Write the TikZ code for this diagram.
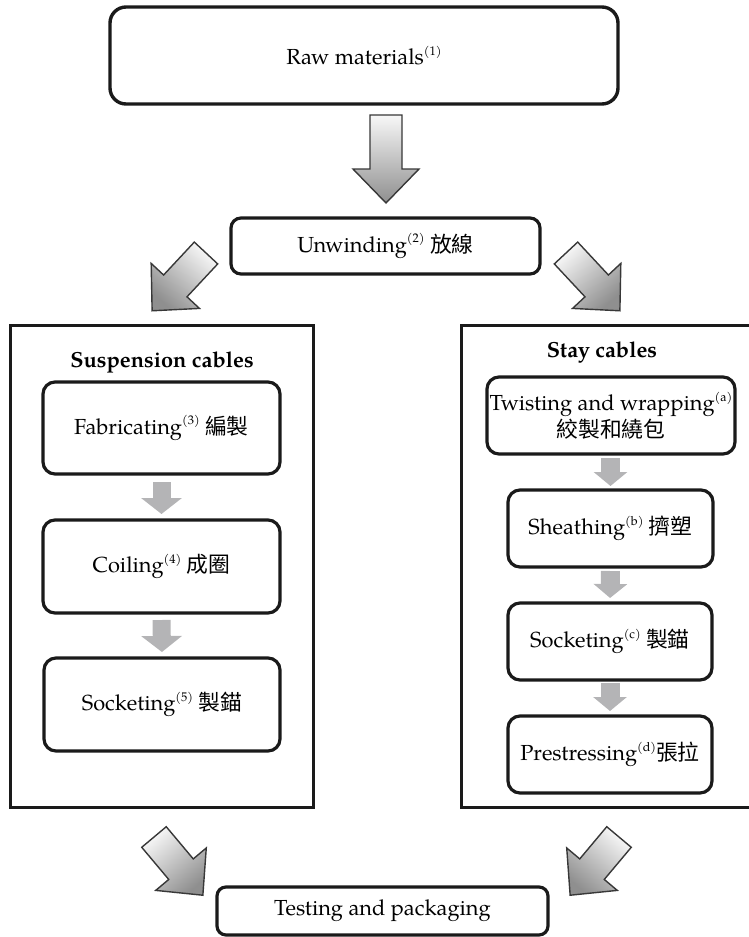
\documentclass[tikz,border=0pt]{standalone}
\usepackage{fontspec}
\setmainfont{TeX Gyre Pagella}
\newfontfamily\cjk{Noto Sans CJK TC}
\usetikzlibrary{arrows.meta}
\definecolor{arrowgray}{HTML}{B4B4B6}
\definecolor{linecol}{HTML}{1A1A1A}
\newcommand\mainsz{\fontsize{21.8}{27}\selectfont}
\newcommand\supr[1]{\raisebox{0.42em}{\fontsize{12.5}{12.5}\selectfont #1}}
\newcommand\bigarr[3]{%
  \pgfmathsetmacro\shang{#2+90}%
  \begin{scope}[shift={#1},rotate=#2]
    \path[bigarrstyle, top color=black!3, bottom color=black!44, shading angle=\shang]
      (0,-16) -- ({#3-34},-16) -- ({#3-34},-33) -- (#3,0) -- ({#3-34},33) -- ({#3-34},16) -- (0,16) -- cycle;
  \end{scope}}
\begin{document}
\begin{tikzpicture}[x=1pt,y=-1pt,
  box/.style={draw=linecol, line width=3.2pt, rounded corners=12pt, outer sep=0pt, inner sep=0pt, font=\mainsz, align=center, fill=white},
  frame/.style={draw=linecol, line width=3pt, outer sep=0pt, inner sep=0pt},
  title/.style={font=\mainsz\bfseries},
  smallarr/.style={draw=arrowgray, line width=18pt, -{Triangle[width=40pt,length=16pt]}},
  smallarrR/.style={draw=arrowgray, line width=19pt, -{Triangle[width=33pt,length=14pt]}},
  bigarrstyle/.style={draw=black!78, line width=1.4pt, line join=miter}]
\useasboundingbox (0,0) rectangle (749,937);
\begin{scope}
\clip (0,0) rectangle (749,937);
% containers
\node[frame, minimum width=303pt, minimum height=482pt] (susp) at (161.5,566) {};
\node[frame, minimum width=339pt, minimum height=482pt] (stay) at (630.5,566) {};
\end{scope}
% top boxes
\node[box, rounded corners=16pt, line width=3.4pt, minimum width=508pt, minimum height=97pt] (raw) at (364,55.5) {Raw materials\supr{(1)}};
\node[box, rounded corners=10pt, minimum width=309pt, minimum height=56pt] (unw) at (385.5,246) {Unwinding\supr{(2)} {\cjk 放線}};
% titles
\node[title] (sustitle) at (162,362) {Suspension cables};
\node[title] (staytitle) at (602,353) {Stay cables};
% suspension boxes
\node[box, minimum width=237pt, minimum height=92pt] (fab) at (161.5,428) {Fabricating\supr{(3)} {\cjk 編製}};
\node[box, minimum width=237pt, minimum height=93pt] (coil) at (161.5,566.5) {Coiling\supr{(4)} {\cjk 成圈}};
\node[box, minimum width=236pt, minimum height=93pt] (sock5) at (162,704.5) {Socketing\supr{(5)} {\cjk 製錨}};
% stay boxes
\node[box, minimum width=248pt, minimum height=77pt] (twist) at (611,415.5) {Twisting and wrapping\supr{(a)}\\{\cjk 絞製和繞包}};
\node[box, minimum width=205pt, minimum height=77pt] (sheath) at (610.5,528.5) {Sheathing\supr{(b)} {\cjk 擠塑}};
\node[box, minimum width=204pt, minimum height=77pt] (sockc) at (610,641.5) {Socketing\supr{(c)} {\cjk 製錨}};
\node[box, minimum width=204pt, minimum height=77pt] (prest) at (610,754.5) {Prestressing\supr{(d)}{\cjk 張拉}};
% bottom box
\node[box, rounded corners=9pt, minimum width=331pt, minimum height=48pt] (test) at (382.5,911) {Testing and packaging};
% small arrows
\draw[smallarr, shorten <=8pt, shorten >=6pt] (fab.south) -- (coil.north);
\draw[smallarr, shorten <=7pt, shorten >=6pt] (coil.south) -- (sock5.north);
\draw[smallarrR, shorten <=4pt, shorten >=4pt] (twist.south -| sheath.north) -- (sheath.north);
\draw[smallarrR, shorten <=4pt, shorten >=5pt] (sheath.south) -- (sockc.north);
\draw[smallarrR, shorten <=3pt, shorten >=5pt] (sockc.south) -- (prest.north);
% big block arrows
\bigarr{(386,115)}{-90}{88}
\bigarr{(206,253)}{-133}{79}
\bigarr{(566,253)}{-47}{79}
\bigarr{(154,837)}{-50}{76}
\bigarr{(619,837)}{-130}{76}
\end{tikzpicture}
\end{document}
